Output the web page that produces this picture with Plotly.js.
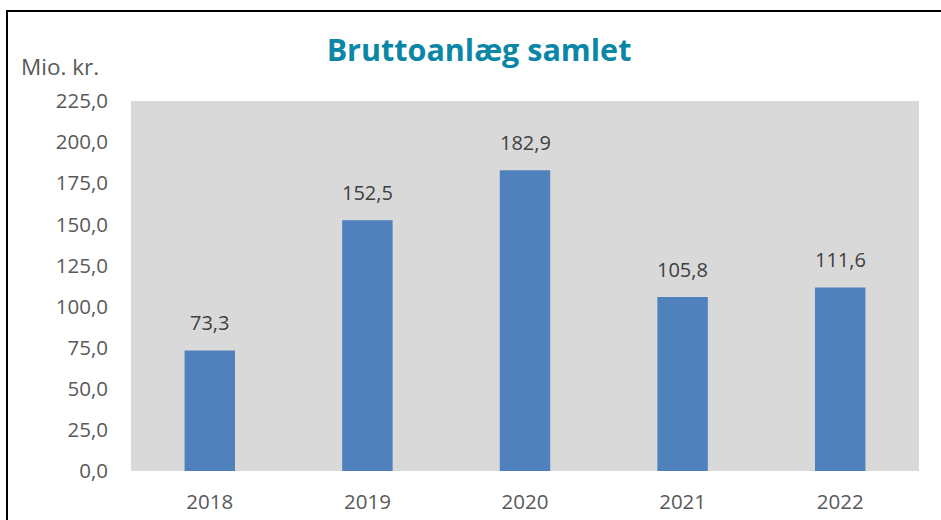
<!DOCTYPE html>
<html>
<head>
<meta charset="utf-8">
<script src="https://cdn.plot.ly/plotly-3.0.1.min.js"></script>
<style>
html,body{margin:0;padding:0;background:#fff;}
#wrap{position:relative;width:941px;height:520px;}
#chart{width:941px;height:520px;}
#frame{position:absolute;left:6px;top:10px;width:940px;height:520px;border-left:2px solid #000;border-top:2px solid #000;pointer-events:none;}
</style>
</head>
<body>
<div id="wrap"><div id="chart"></div><div id="frame"></div></div>
<script>
const categories = ['2018', '2019', '2020', '2021', '2022'];
const values = [73.3, 152.5, 182.9, 105.8, 111.6];
const labels = ['73,3', '152,5', '182,9', '105,8', '111,6'];
const titleText = 'Bruttoanlæg samlet';
const unitText = 'Mio. kr.';

const FONT = '"Open Sans", sans-serif';

const trace = {
  type: 'bar',
  x: categories,
  y: values,
  marker: {color: '#4f81bd'},
  hoverinfo: 'none'
};

const annotations = categories.map((c, i) => ({
  x: i, y: values[i], xref: 'x', yref: 'y',
  text: labels[i], showarrow: false,
  yanchor: 'bottom', yshift: 12,
  font: {family: FONT, size: 20, color: '#404040'}
}));
annotations.push({
  xref: 'paper', yref: 'paper',
  x: (19 - 131) / 788, y: 1 + (101 - 66) / 370,
  xanchor: 'left', yanchor: 'middle',
  text: unitText, showarrow: false,
  font: {family: FONT, size: 22.5, color: '#595959'}
});

const layout = {
  width: 941, height: 520,
  margin: {l: 131, r: 22, t: 101, b: 49, pad: 0},
  paper_bgcolor: '#ffffff',
  plot_bgcolor: '#d9d9d9',
  separators: ',.',
  showlegend: false,
  bargap: 0.68,
  title: {
    text: '<b>' + titleText + '</b>',
    xref: 'container', yref: 'container',
    x: 479 / 941, y: 1 - 50 / 520,
    xanchor: 'center', yanchor: 'middle',
    font: {family: FONT, size: 30.5, color: '#0a86a6'}
  },
  xaxis: {
    type: 'category',
    range: [-0.5, categories.length - 0.5],
    showgrid: false, zeroline: false, showline: false,
    ticks: '', ticklabelstandoff: 16,
    tickfont: {family: FONT, size: 20.5, color: '#595959'}
  },
  yaxis: {
    range: [0, 225], dtick: 25, tick0: 0,
    tickformat: '.1f',
    showgrid: false, zeroline: false, showline: false,
    ticks: '', ticklabelstandoff: 22,
    tickfont: {family: FONT, size: 20.5, color: '#595959'}
  },
  annotations: annotations
};

Plotly.newPlot('chart', [trace], layout, {staticPlot: true, displayModeBar: false});
</script>
</body>
</html>
